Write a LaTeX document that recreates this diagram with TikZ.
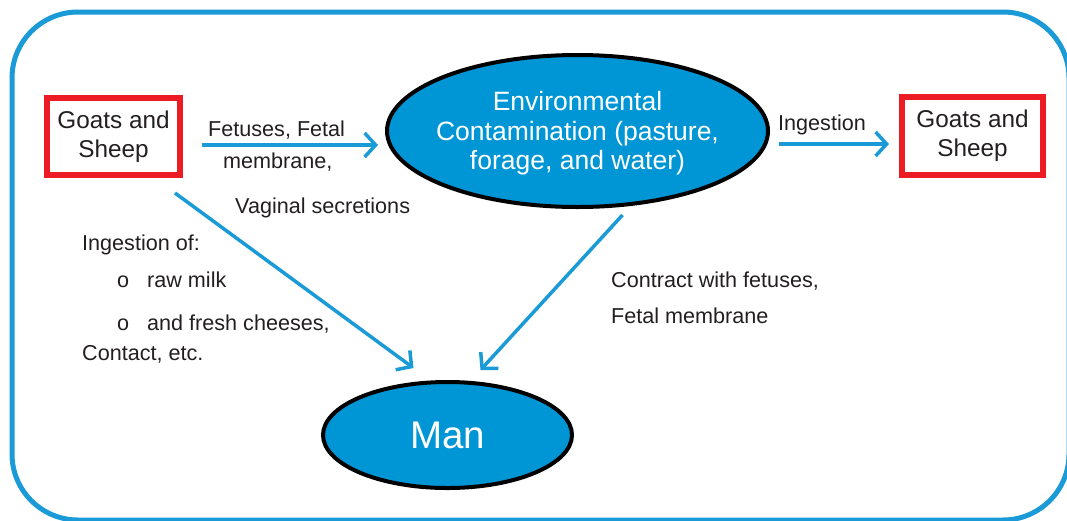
\documentclass[tikz,border=0pt]{standalone}
\usepackage{fontspec}
\setmainfont{Liberation Sans}
\usetikzlibrary{shapes.geometric,arrows.meta}
\definecolor{cblue}{RGB}{0,150,214}
\definecolor{lblue}{RGB}{26,154,214}
\definecolor{cred}{RGB}{237,28,36}
\definecolor{ctext}{RGB}{35,31,32}
\tikzset{
  frame/.style={draw=lblue, line width=5pt, rounded corners=66pt},
  redbox/.style={draw=cred, line width=6pt, rectangle, inner sep=0pt, align=center, text=ctext,
    font=\fontsize{24.3}{29}\selectfont},
  blueell/.style={ellipse, draw=black, line width=4pt, fill=cblue, inner sep=0pt},
  whitetxt/.style={text=white, align=center, inner sep=0pt},
  arr/.style={draw=lblue, line width=3.5pt, -{Straight Barb[length=11pt,width=24pt]}},
  lbl/.style={anchor=base west, inner sep=0pt, text=ctext, font=\fontsize{21.6}{25}\selectfont}
}
\begin{document}
\begin{tikzpicture}[x=1pt,y=-1pt]
\useasboundingbox (0,0) rectangle (1067,520);
\draw[frame] (12,12) rectangle (1069,520);

\node[redbox, minimum width=133pt, minimum height=77pt] (lbox) at (113.5,136.5) {Goats and\\Sheep};
\node[redbox, minimum width=141pt, minimum height=78pt] (rbox) at (972.5,136) {Goats and\\Sheep};

\node[blueell, minimum width=381pt, minimum height=152pt] (env) at (577.5,131) {};
\node[whitetxt, font=\fontsize{26.5}{29.5}\selectfont] (envtext) at (577.5,133.5)
  {Environmental\\Contamination (pasture,\\forage, and water)};

\node[blueell, minimum width=249pt, minimum height=106pt, text=white,
  font=\fontsize{38.5}{40}\selectfont] (man) at (447.5,435) {Man};

\draw[arr] ([shift={(19pt,-8.5pt)}]lbox.east) -- ([shift={(-7pt,-14pt)}]env.west);
\draw[arr] ([shift={(9pt,-13pt)}]env.east) -- ([shift={(-10pt,-8pt)}]rbox.west);
\draw[arr] ([shift={(-8pt,-15pt)}]lbox.south east) -- ([shift={(-34pt,12pt)}]man.north);
\draw[arr] ([shift={(45pt,-6pt)}]env.south) -- ([shift={(33pt,10pt)}]man.north);

\node[lbl] (l1) at (208,136) {Fetuses, Fetal};
\node[lbl] (l2) at (223,168) {membrane,};
\node[lbl] (l3) at (235,213) {Vaginal secretions};
\node[lbl] (l4) at (778,130) {Ingestion};
\node[lbl] (l5) at (82,250) {Ingestion of:};
\node[lbl] (l6) at (117,287) {\makebox[30pt][l]{o}raw milk};
\node[lbl] (l7) at (117,330) {\makebox[30pt][l]{o}and fresh cheeses,};
\node[lbl] (l8) at (82,360) {Contact, etc.};
\node[lbl] (l9) at (611,287) {Contract with fetuses,};
\node[lbl] (l10) at (611,323) {Fetal membrane};
\end{tikzpicture}
\end{document}
